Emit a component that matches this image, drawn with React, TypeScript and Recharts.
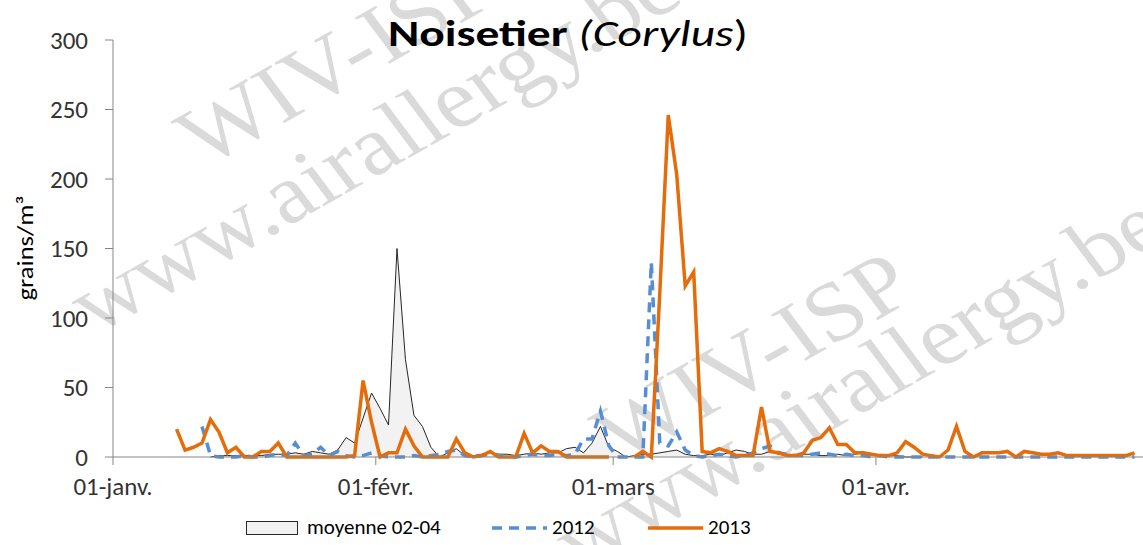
import * as React from 'react';
import { ComposedChart, Area, Line, XAxis, YAxis } from 'recharts';

// day index 0 = 1 January, one value per day
const dayCount = 121;
const monthTicks = [0, 31, 59, 90];
const monthLabels = ['01-janv.', '01-févr.', '01-mars', '01-avr.'];
const yTicks = [0, 50, 100, 150, 200, 250, 300];

const avgStart = 11;
const avg0204 = [
  0, 1, 1, 1, 1, 1, 1, 2, 2, 2, 3, 2, 4, 3, 2, 5, 14, 10, 28, 46,
  35, 23, 150, 70, 30, 22, 7, 0, 3, 6, 1, 1, 2, 3, 2, 2, 1, 2, 3, 2,
  3, 3, 6, 7, 3, 10, 22, 7, 4, 0, 1, 2, 2, 3, 4, 5, 2, 1, 1, 2,
  1, 3, 5, 4, 2, 2, 4, 2, 2, 1, 2, 2, 1, 1, 2, 1, 2, 3, 2, 1,
  1, 1, 0, 0, 0,
];

const y2012Start = 10;
const y2012 = [
  22, 1, 0, 0, 0, 1, 0, 0, 1, 2, 1, 10, 1, 2, 7, 1, 4, 1, 0, 1,
  3, 1, 0, 0, 0, 1, 0, 1, 2, 4, 5, 1, 0, 1, 2, 1, 1, 0, 1, 2,
  1, 1, 2, 1, 2, 13, 13, 33, 8, 0, 0, 0, 0, 140, 10, 8, 18, 5, 1, 0,
  1, 2, 1, 0, 1, 3, 6, 8, 3, 2, 1, 1, 2, 3, 2, 1, 2, 1, 1, 0,
  1, 0, 0, 0, 0, 0, 0, 0, 0, 0, 0, 0, 0, 0, 0, 0, 0, 0, 0, 0,
  0, 0, 0, 0, 0, 0, 0, 0, 0, 0, 0,
];

const y2013Start = 7;
const y2013: (number | null)[] = [
  20, 5, 7, 10, 27, 18, 3, 7, 0, 0, 4, 4, 10, 0, 0, 0, 0, 0, 0, 0,
  0, 1, 55, 25, 0, 3, 3, 20, 8, 0, 0, 0, 0, 13, 3, 0, 1, 4, 0, 0,
  0, 17, 3, 8, 4, 4, 0, 0, 0, 0, 0, 0, null, null, 0, 4, 0, 118, 246, 203,
  123, 133, 4, 3, 6, 4, 1, 1, 1, 36, 4, 3, 1, 1, 3, 12, 14, 21, 9, 9,
  3, 3, 2, 1, 1, 3, 11, 7, 2, 1, 0, 5, 22, 4, 0, 3, 3, 3, 4, 0,
  4, 3, 2, 2, 3, 1, 1, 1, 1, 1, 1, 1, 1, 3,
];

const pick = (arr: (number | null)[], start: number, d: number) =>
  d >= start && d - start < arr.length ? arr[d - start] : null;

const data = Array.from({ length: dayCount }, (_, d) => ({
  x: d + 0.5,
  avg: pick(avg0204, avgStart, d),
  s2012: pick(y2012, y2012Start, d),
  s2013: pick(y2013, y2013Start, d),
}));

const font = 'Carlito, Calibri, Lato, "Open Sans", sans-serif';

export default function App() {
  return (
    <div style={{ position: 'fixed', left: 0, top: 0, width: 1143, height: 545, background: '#fff', fontFamily: font }}>
      {/* watermark */}
      <svg width={1143} height={545} style={{ position: 'absolute', left: 0, top: 0 }}>
        <g transform="scale(1.15,1)" fill="#dadada" fontFamily='"Liberation Serif", "DejaVu Serif", serif' fontSize={84}>
          <text x={178} y={168} transform="rotate(-33 178 168)">WIV-ISP</text>
          <text x={83} y={335} transform="rotate(-33 83 335)">www.airallergy.be</text>
          <text x={540} y={465} transform="rotate(-33 540 465)">WIV-ISP</text>
          <text x={505} y={572} transform="rotate(-33 505 572)">www.airallergy.be</text>
        </g>
      </svg>
      <div style={{ position: 'absolute', left: 0, top: 0 }}>
        <ComposedChart width={1143} height={545} data={data} margin={{ top: 40, right: 0, bottom: 58, left: 43 }}>
          <XAxis
            dataKey="x"
            type="number"
            domain={[0, 121.5]}
            ticks={monthTicks}
            tickFormatter={(v: number) => monthLabels[monthTicks.indexOf(v)]}
            allowDataOverflow
            height={30}
            stroke="#868686"
            tickSize={8}
            tickMargin={12}
            tick={{ fill: '#333', fontSize: 25, fontFamily: font }}
          />
          <YAxis
            domain={[0, 300]}
            ticks={yTicks}
            width={70}
            stroke="#868686"
            tickSize={8}
            tickMargin={17}
            tick={{ fill: '#333', fontSize: 25, fontFamily: font }}
          />
          <Area
            dataKey="avg"
            type="linear"
            stroke="#262626"
            strokeWidth={1}
            fill="#f2f2f2"
            fillOpacity={1}
            isAnimationActive={false}
          />
          <Line
            dataKey="s2012"
            type="linear"
            stroke="#558ed5"
            strokeWidth={3.5}
            strokeDasharray="10 7"
            dot={false}
            isAnimationActive={false}
          />
          <Line
            dataKey="s2013"
            type="linear"
            stroke="#e46c0a"
            strokeWidth={3.5}
            dot={false}
            isAnimationActive={false}
          />
        </ComposedChart>
      </div>
      <svg width={1143} height={545} style={{ position: 'absolute', left: 0, top: 0, pointerEvents: 'none' }}>
        <text x={568} y={46} textAnchor="middle" fontSize={36} fill="#000" fontFamily={font} textLength={360} lengthAdjust="spacingAndGlyphs">
          <tspan fontWeight="bold">Noisetier </tspan>
          <tspan fontStyle="italic">(Corylus</tspan>
          <tspan>)</tspan>
        </text>
        <text
          x={0} y={0} transform="translate(33 248) rotate(-90)" textAnchor="middle" fontSize={22} fill="#000"
          fontFamily={font} textLength={105} lengthAdjust="spacingAndGlyphs"
        >
          grains/m³
        </text>
      </svg>
      <div style={{ position: 'absolute', top: 518, left: 0, width: 1143, height: 27, fontSize: 21, color: '#000' }}>
        <div style={{ position: 'absolute', left: 246, top: 3, width: 50, height: 12, background: '#f2f2f2', border: '1px solid #262626' }} />
        <span style={{ position: 'absolute', left: 307, top: -4 }}>moyenne 02-04</span>
        <svg style={{ position: 'absolute', left: 492, top: 7 }} width={55} height={6}>
          <line x1={0} y1={3} x2={55} y2={3} stroke="#558ed5" strokeWidth={3.5} strokeDasharray="10 7" />
        </svg>
        <span style={{ position: 'absolute', left: 552, top: -4 }}>2012</span>
        <svg style={{ position: 'absolute', left: 648, top: 7 }} width={55} height={6}>
          <line x1={0} y1={3} x2={55} y2={3} stroke="#e46c0a" strokeWidth={3.5} />
        </svg>
        <span style={{ position: 'absolute', left: 708, top: -4 }}>2013</span>
      </div>
    </div>
  );
}
